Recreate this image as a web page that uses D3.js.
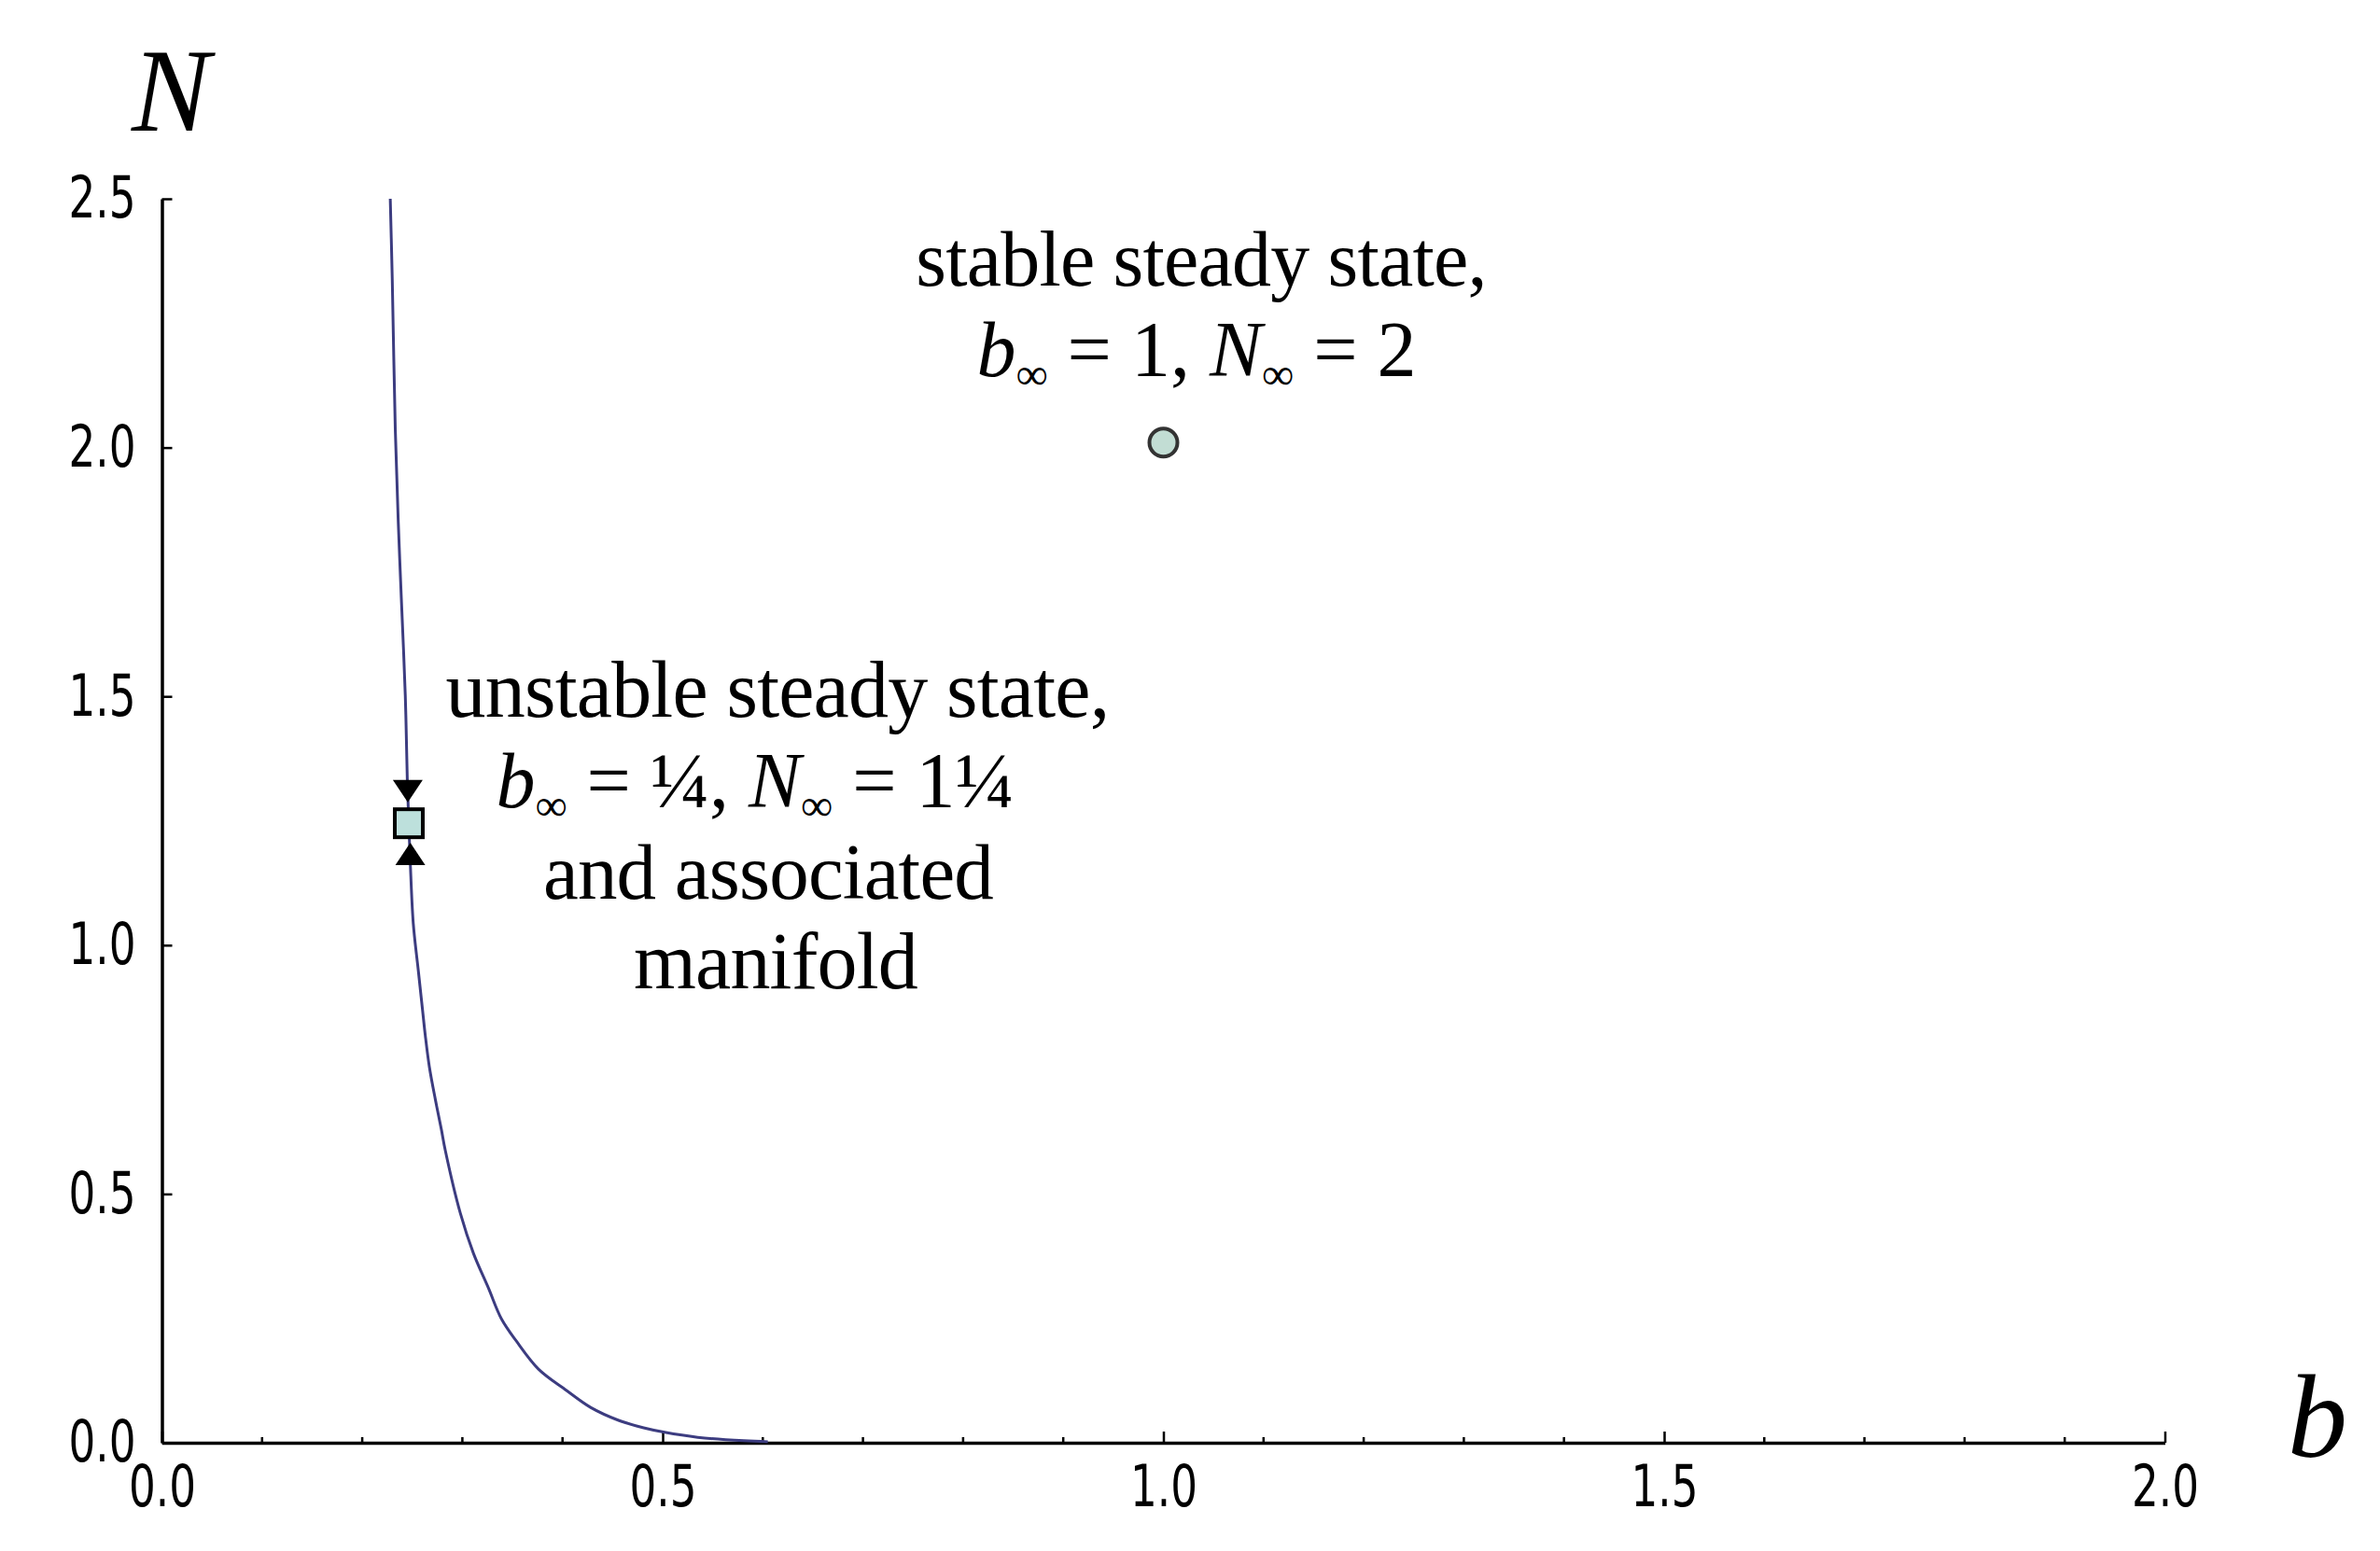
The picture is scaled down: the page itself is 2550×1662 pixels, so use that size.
<!DOCTYPE html>
<html>
<head>
<meta charset="utf-8">
<script src="https://cdn.jsdelivr.net/npm/d3@7"></script>
<style>
  html, body { margin: 0; padding: 0; background: #ffffff; }
  svg { display: block; }
  text { white-space: pre; }
</style>
</head>
<body>
<div id="chart"></div>
<script>
// ---- data ----
const manifoldB = [0.228, 0.230, 0.233, 0.236, 0.239, 0.243, 0.245, 0.2465, 0.248, 0.251, 0.256, 0.260, 0.263, 0.267, 0.273, 0.279, 0.283, 0.298, 0.311, 0.326, 0.339, 0.354, 0.376, 0.404, 0.428, 0.456, 0.481, 0.502, 0.535, 0.581, 0.605];
const manifoldN = [2.5, 2.337, 2.037, 1.85, 1.699, 1.502, 1.333, 1.245, 1.165, 1.043, 0.949, 0.874, 0.818, 0.756, 0.690, 0.630, 0.587, 0.461, 0.381, 0.311, 0.249, 0.204, 0.148, 0.105, 0.071, 0.045, 0.030, 0.021, 0.011, 0.004, 0.002];

const unstablePoint = { b: 0.2465, N: 1.245 };
const stablePoint = { b: 1.0, N: 2.01 };
const arrowB = [0.2455, 0.248];
const arrowN = [1.287, 1.206];
const arrowDir = ["down", "up"];

const xTickValues = [0.0, 0.5, 1.0, 1.5, 2.0];
const xTickLabels = ["0.0", "0.5", "1.0", "1.5", "2.0"];
const xMinorTicks = [0.1,0.2,0.3,0.4,0.6,0.7,0.8,0.9,1.1,1.2,1.3,1.4,1.6,1.7,1.8,1.9];
const yTickValues = [0.0, 0.5, 1.0, 1.5, 2.0, 2.5];
const yTickLabels = ["0.0", "0.5", "1.0", "1.5", "2.0", "2.5"];

const stableLines = ["stable steady state,"];
const unstableLines = ["unstable steady state,", "and associated", "manifold"];

// ---- layout ----
const W = 2550, H = 1662;
const svg = d3.select("#chart").append("svg").attr("width", W).attr("height", H);
svg.append("rect").attr("width", W).attr("height", H).attr("fill", "#ffffff");

const x = d3.scaleLinear().domain([0, 2]).range([173.5, 2319.5]);
const y = d3.scaleLinear().domain([0, 2.5]).range([1546, 213]);

const tickFont = "'Liberation Sans Narrow', 'Arial Narrow', 'DejaVu Sans Condensed', sans-serif";
const serif = "'Liberation Serif', 'Times New Roman', serif";

// x axis
const xAxis = d3.axisBottom(x).tickValues(xTickValues)
  .tickFormat((d, i) => xTickLabels[i]).tickSizeInner(-12).tickSizeOuter(0).tickPadding(0);
const gx = svg.append("g").attr("transform", `translate(0,${y(0)})`).call(xAxis);
gx.select(".domain").attr("stroke", "#000").attr("stroke-width", 3.5);
gx.selectAll(".tick line").attr("stroke", "#000").attr("stroke-width", 2.5);
gx.selectAll(".tick text").attr("font-family", tickFont).attr("font-size", 62)
  .attr("fill", "#000").attr("y", 68).attr("dy", 0)
  .attr("textLength", 72).attr("lengthAdjust", "spacingAndGlyphs");
gx.selectAll(".minor").data(xMinorTicks).enter().append("line")
  .attr("x1", d => x(d)).attr("x2", d => x(d)).attr("y1", 0).attr("y2", -6)
  .attr("stroke", "#000").attr("stroke-width", 2.5);

// y axis
const yAxis = d3.axisLeft(y).tickValues(yTickValues)
  .tickFormat((d, i) => yTickLabels[i]).tickSizeInner(-11).tickSizeOuter(0).tickPadding(0);
const gy = svg.append("g").attr("transform", `translate(${x(0)},0)`).call(yAxis);
gy.select(".domain").attr("stroke", "#000").attr("stroke-width", 3.5);
gy.selectAll(".tick line").attr("stroke", "#000").attr("stroke-width", 2.5);
gy.selectAll(".tick text").attr("font-family", tickFont).attr("font-size", 62)
  .attr("fill", "#000").attr("x", -28).attr("dy", "0.32em")
  .attr("textLength", 72).attr("lengthAdjust", "spacingAndGlyphs");

// axis labels
svg.append("text").attr("x", 183).attr("y", 140).attr("text-anchor", "middle")
  .attr("font-family", serif).attr("font-style", "italic").attr("font-size", 126)
  .attr("fill", "#000").text("N");
svg.append("text").attr("x", 2483).attr("y", 1561).attr("text-anchor", "middle")
  .attr("font-family", serif).attr("font-style", "italic").attr("font-size", 128)
  .attr("fill", "#000").text("b");

// manifold curve
const pts = manifoldB.map((b, i) => [b, manifoldN[i]]);
const line = d3.line().x(d => x(d[0])).y(d => y(d[1])).curve(d3.curveCatmullRom.alpha(0.5));
svg.append("path").datum(pts).attr("d", line)
  .attr("fill", "none").attr("stroke", "#3c3c80").attr("stroke-width", 3);

// arrows
arrowB.forEach((b, i) => {
  const cx = x(b), cy = y(arrowN[i]);
  const s = arrowDir[i] === "down" ? -1 : 1;
  const hw = 16, h = 24;
  svg.append("path")
    .attr("d", `M${cx},${cy} L${cx - hw},${cy + s * h} L${cx + hw},${cy + s * h} Z`)
    .attr("fill", "#000");
});

// steady-state markers
const sq = 30;
svg.append("rect")
  .attr("x", x(unstablePoint.b) - sq / 2).attr("y", y(unstablePoint.N) - sq / 2)
  .attr("width", sq).attr("height", sq)
  .attr("fill", "#bde0dc").attr("stroke", "#000").attr("stroke-width", 4);
svg.append("circle")
  .attr("cx", x(stablePoint.b)).attr("cy", y(stablePoint.N)).attr("r", 15)
  .attr("fill", "#c2ddd4").attr("stroke", "#333").attr("stroke-width", 4);

// annotations
function plainLine(txt, cx, by, fs) {
  svg.append("text").attr("x", cx).attr("y", by).attr("text-anchor", "middle")
    .attr("font-family", serif).attr("font-size", fs).attr("fill", "#000")
    .attr("letter-spacing", -0.8).text(txt);
}
function mathLine(parts, cx, by) {
  const t = svg.append("text").attr("x", cx).attr("y", by).attr("text-anchor", "middle")
    .attr("font-family", serif).attr("font-size", 84).attr("fill", "#000");
  parts.forEach(p => {
    const ts = t.append("tspan").text(p.t);
    if (p.i) ts.attr("font-style", "italic");
    if (p.sub) ts.attr("font-size", 48).attr("dy", 14);
    if (p.up) ts.attr("dy", -14);
  });
}

plainLine(stableLines[0], 1287, 306, 84);
mathLine([
  { t: "b", i: true }, { t: "\u221E", sub: true }, { t: " = 1, ", up: true },
  { t: "N", i: true }, { t: "\u221E", sub: true }, { t: " = 2", up: true }
], 1282, 403);

plainLine(unstableLines[0], 833, 768, 86);
mathLine([
  { t: "b", i: true }, { t: "\u221E", sub: true }, { t: " = \u00BC, ", up: true },
  { t: "N", i: true }, { t: "\u221E", sub: true }, { t: " = 1\u00BC", up: true }
], 809, 865);
plainLine(unstableLines[1], 823, 963, 85);
plainLine(unstableLines[2], 831, 1059, 86);
</script>
</body>
</html>
